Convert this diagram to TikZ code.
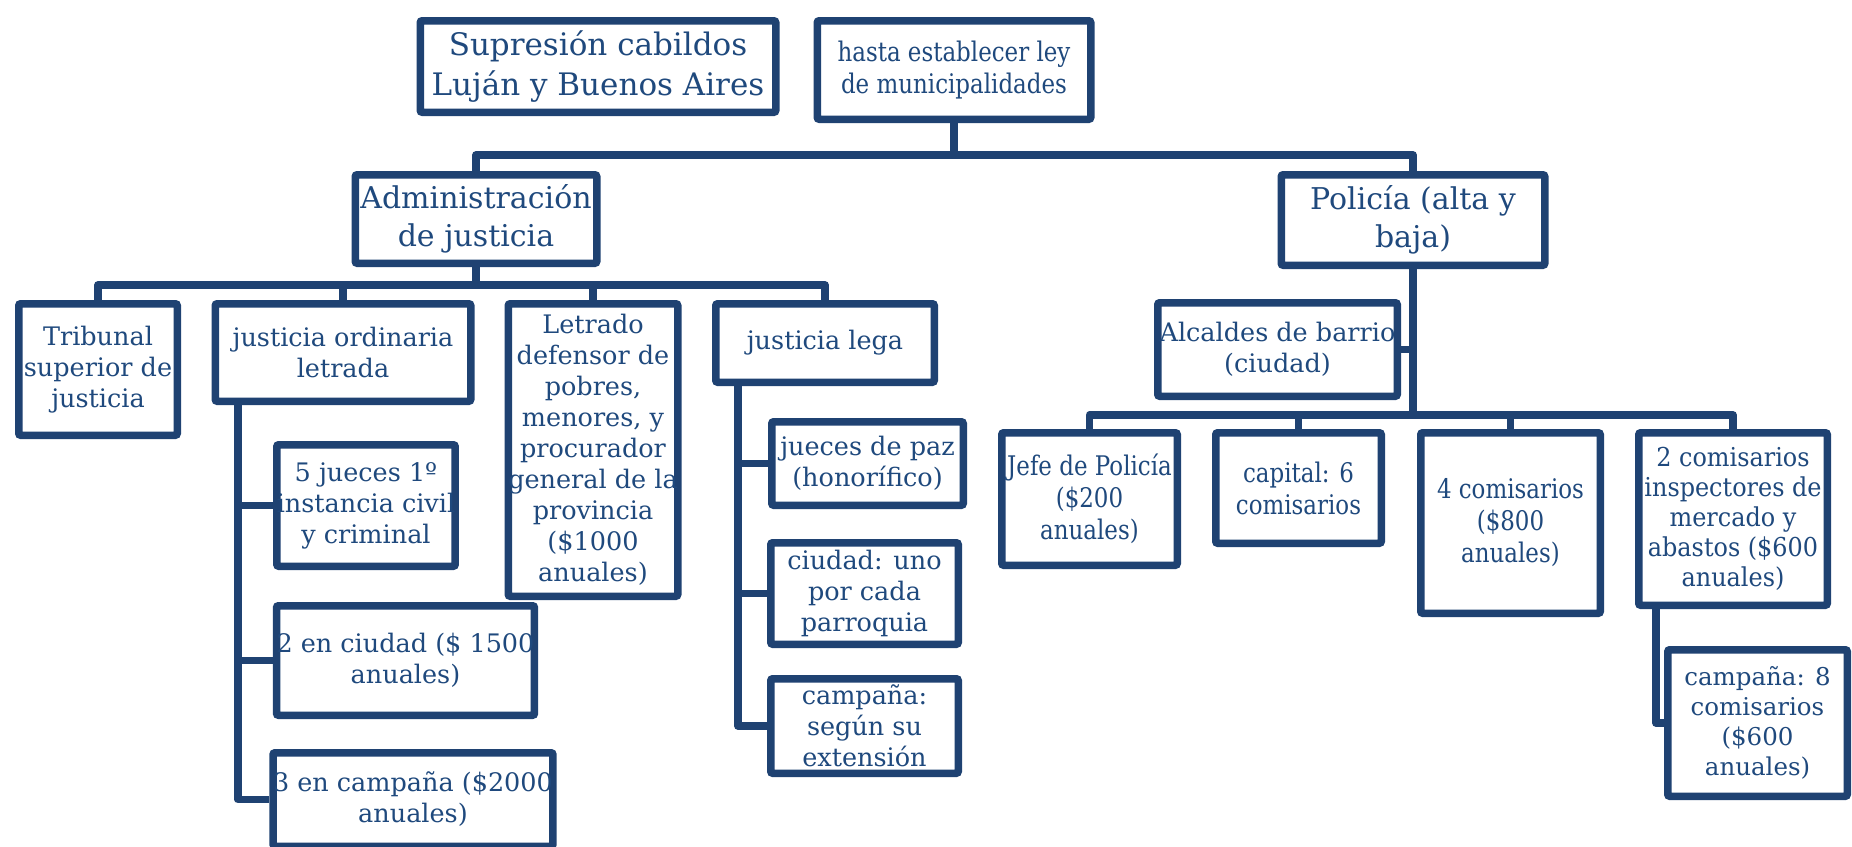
\documentclass[tikz,border=0pt]{standalone}
\usepackage{fontspec}
\setmainfont{DejaVu Serif}
\newfontfamily\condfont[FakeStretch=0.85]{DejaVu Serif}
\newfontfamily\semicondfont[FakeStretch=0.92]{DejaVu Serif}
\definecolor{bordc}{HTML}{1F4272}
\definecolor{txtc}{HTML}{1F497D}
\tikzset{
  box/.style={draw=bordc, line width=7.5pt, rounded corners=2pt, fill=white,
    text=txtc, align=center, inner sep=0pt},
  link/.style={draw=bordc, line width=7.5pt, line join=round},
  big/.style={font=\fontsize{31}{40}\selectfont},
  mid/.style={font=\fontsize{30}{38}\selectfont},
  small/.style={font=\fontsize{25.5}{31}\selectfont},
  note/.style={font=\condfont\fontsize{27}{32}\selectfont},
  insp/.style={font=\semicondfont\fontsize{26}{30}\selectfont},
  snote/.style={font=\fontsize{24.5}{30}\selectfont},
}
\begin{document}
\begin{tikzpicture}[x=1pt,y=-1pt]
\useasboundingbox (0,0) rectangle (1852,846);

% top row
\node[box, big, minimum width=355.5, minimum height=91.5] (sup) at (598,66.5)
  {Supresión cabildos\\Luján y Buenos Aires};
\node[box, note, minimum width=273.5, minimum height=98.5] (hasta) at (954,70)
  {hasta establecer ley\\de municipalidades};

% second row
\node[box, mid, minimum width=241.5, minimum height=88.5] (admin) at (476,219)
  {Administración\\de justicia};
\node[box, mid, minimum width=263.5, minimum height=90.5] (poli) at (1413,220)
  {Policía (alta y\\baja)};

% justice branch
\node[box, small, minimum width=158.5, minimum height=131.5] (trib) at (98,369.5)
  {Tribunal\\superior de\\justicia};
\node[box, small, minimum width=255.5, minimum height=97.5] (jol) at (343,352.5)
  {justicia ordinaria\\letrada};
\node[box, small, minimum width=169.5, minimum height=292.5] (letr) at (593,450)
  {Letrado\\defensor de\\pobres,\\menores, y\\procurador\\general de la\\provincia\\(\$1000\\anuales)};
\node[box, small, minimum width=218.5, minimum height=78.5] (lega) at (825,343)
  {justicia lega};

\node[box, small, minimum width=171.5, minimum height=121.5] (jc1) at (366,505.5)
  {5 jueces 1º\\instancia civil\\y criminal};
\node[box, small, minimum width=255.5, minimum height=109.5] (jc2) at (405.5,660.5)
  {2 en ciudad (\$ 1500\\anuales)};
\node[box, small, minimum width=270.5, minimum height=93.5] (jc3) at (413,799.5)
  {3 en campaña (\$2000\\anuales)};

\node[box, small, minimum width=191.5, minimum height=83.5] (jl1) at (867.5,463.5)
  {jueces de paz\\(honorífico)};
\node[box, small, minimum width=187.5, minimum height=101.5] (jl2) at (864.5,593.5)
  {ciudad: uno\\por cada\\parroquia};
\node[box, small, minimum width=187.5, minimum height=94.5] (jl3) at (864.5,726)
  {campaña:\\según su\\extensión};

% police branch
\node[box, small, minimum width=239.5, minimum height=93.5] (alc) at (1277.5,349.5)
  {Alcaldes de barrio\\(ciudad)};
\node[box, note, minimum width=175.5, minimum height=132.5] (jefe) at (1089.5,499)
  {Jefe de Policía\\(\$200\\anuales)};
\node[box, note, minimum width=165.5, minimum height=110.5] (cap) at (1298.5,488)
  {capital: 6\\comisarios};
\node[box, note, minimum width=179.5, minimum height=180.5] (com4) at (1510.5,523)
  {4 comisarios\\(\$800\\anuales)};
\node[box, insp, minimum width=188.5, minimum height=172.5] (insp) at (1733,519)
  {2 comisarios\\inspectores de\\mercado y\\abastos (\$600\\anuales)};
\node[box, snote, minimum width=179.5, minimum height=146.5] (camp8) at (1757.5,723)
  {campaña: 8\\comisarios\\(\$600\\anuales)};

% bus points and spines
\coordinate (b1) at (954,155);
\coordinate (b2) at (476,285);
\coordinate (b3) at (1413,415);
\coordinate (sx1) at (238,0);
\coordinate (sx2) at (738,0);
\coordinate (sx3) at (1656,0);

% connectors
\draw[link] (hasta.south) -- (b1);
\draw[link] (admin.north) |- (b1) -| (poli.north);

\draw[link] (admin.south) -- (b2);
\draw[link] (trib.north) |- (b2) -| (lega.north);
\draw[link] (jol.north) -- (jol.north |- b2);
\draw[link] (letr.north) -- (letr.north |- b2);

\draw[link] (jol.south -| sx1) |- (jc3.west);
\draw[link] (jc1.west -| sx1) -- (jc1.west);
\draw[link] (jc2.west -| sx1) -- (jc2.west);

\draw[link] (lega.south -| sx2) |- (jl3.west);
\draw[link] (jl1.west -| sx2) -- (jl1.west);
\draw[link] (jl2.west -| sx2) -- (jl2.west);

\draw[link] (poli.south) -- (b3);
\draw[link] (alc.east) -- (alc.east -| b3);
\draw[link] (jefe.north) |- (b3) -| (insp.north);
\draw[link] (cap.north) -- (cap.north |- b3);
\draw[link] (com4.north) -- (com4.north |- b3);

\draw[link] (insp.south -| sx3) |- (camp8.west);
\end{tikzpicture}
\end{document}
